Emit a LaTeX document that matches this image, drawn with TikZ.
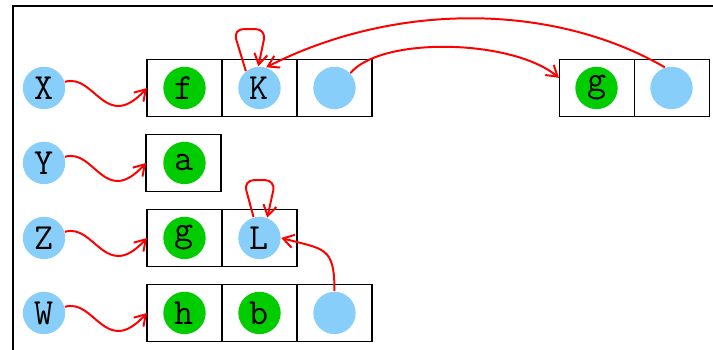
\documentclass[tikz,border=0pt]{standalone}
\usetikzlibrary{arrows.meta}
\definecolor{refblue}{RGB}{135,206,250}
\definecolor{valgreen}{RGB}{0,204,0}

\begin{document}
\begin{tikzpicture}[
  cell/.style={draw, line width=0.4pt, minimum width=1cm, minimum height=0.76cm, inner sep=0pt, outer sep=0pt},
  ref/.style={circle, fill=refblue, minimum size=0.565cm, inner sep=0pt, font=\ttfamily\fontsize{14}{16}\selectfont},
  val/.style={ref, fill=valgreen},
  link/.style={red, line width=0.75pt, -{Straight Barb[length=4pt,width=5pt]}},
]

\useasboundingbox (-0.587,-3.493) rectangle (8.92,1.173);
\draw [line width=0.9pt] (-0.413,-3.493) |- (8.92,1.093);

% variables
\node [ref] (X) at (0,0) {X};
\node [ref] (Y) at (0,-1) {Y};
\node [ref] (Z) at (0,-2) {Z};
\node [ref] (W) at (0,-3) {W};

% heap cells
\node [cell] (x1) at (1.873,0) {};
\node [cell] (x2) at (2.873,0) {};
\node [cell] (x3) at (3.873,0) {};
\node [cell] (y1) at (1.86,-1) {};
\node [cell] (z1) at (1.873,-2) {};
\node [cell] (z2) at (2.873,-2) {};
\node [cell] (w1) at (1.873,-3) {};
\node [cell] (w2) at (2.873,-3) {};
\node [cell] (w3) at (3.873,-3) {};
\node [cell] (g1) at (7.367,0) {};
\node [cell] (g2) at (8.367,0) {};

% contents
\node [val] (xf) at (x1) {f};
\node [ref] (xk) at (x2) {K};
\node [ref] (xp) at (x3) {};
\node [val] (ya) at (1.873,-1) {a};
\node [val] (zg) at (z1) {g};
\node [ref] (zl) at (z2) {L};
\node [val] (wh) at (w1) {h};
\node [val] (wb) at (w2) {b};
\node [ref] (wp) at (w3) {};
\node [val] (gg) at (g1) {g};
\node [ref] (gp) at (g2) {};

% bindings
\draw [link] (X) .. controls +(0.68,0.2) and +(-0.56,-0.61) .. (x1.west);
\draw [link] (Y) .. controls +(0.68,0.2) and +(-0.56,-0.61) .. (y1.west);
\draw [link] (Z) .. controls +(0.68,0.2) and +(-0.56,-0.61) .. (z1.west);
\draw [link] (W) .. controls +(0.68,0.2) and +(-0.56,-0.61) .. (w1.west);

% pointers
\draw [link, rounded corners=4pt] (xk.129) -- ++(-0.17,0.56) -- ++(0.44,0) -- (xk.93);
\draw [link, rounded corners=4pt] (zl.106) -- ++(-0.133,0.493) -- ++(0.427,0) -- (zl.69);
\draw [link] (xp.43) .. controls +(50:0.65) and +(140:0.8) .. (g1.165);
\draw [link] (gp.108) .. controls +(150:1.75) and +(27:1.9) .. (xk.72);
\draw [link] (wp.north) .. controls +(0,0.6) and +(-15:0.6) .. (zl.east);

\end{tikzpicture}
\end{document}
